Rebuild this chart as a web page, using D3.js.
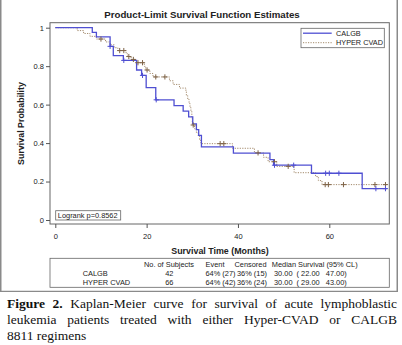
<!DOCTYPE html>
<html>
<head>
<meta charset="utf-8">
<script src="https://cdn.jsdelivr.net/npm/d3@7"></script>
<style>
  body { margin: 0; background: #fff; }
  #wrap { position: relative; width: 402px; height: 345px; overflow: hidden; }
  svg text { font-family: "Liberation Sans", Arial, sans-serif; fill: #222; }
  .cap { position: absolute; left: 7px; width: 390px; height: 16px; line-height: 16px;
         font-family: "Liberation Serif", "Times New Roman", serif; font-size: 13.5px; color: #111;
         white-space: nowrap; }
  .just { text-align: justify; text-align-last: justify; white-space: normal; }
</style>
</head>
<body>
<div id="wrap"></div>
<script>
// Kaplan-Meier step points (months, survival) for each arm
const calgbTime = [0, 8.1, 9.0, 12.0, 12.7, 14.9, 17.8, 18.9, 19.9, 22.0, 26.0, 28.0, 29.2, 30.1, 30.9, 31.4, 32.0, 39.0, 47.0, 47.8, 56.1, 67.2, 72.6];
const calgbSurv = [1, 0.976, 0.952, 0.903, 0.855, 0.830, 0.780, 0.752, 0.688, 0.625, 0.595, 0.566, 0.536, 0.500, 0.470, 0.440, 0.380, 0.348, 0.314, 0.285, 0.243, 0.163, 0.163];
const calgbCensor = [12.0, 15.0, 19.1, 22.1, 48.0, 52.2, 59.2, 60.0, 62.1, 70.2, 72.3];

const hyperTime = [0, 4.8, 6.2, 7.6, 9.0, 11.0, 12.0, 12.9, 13.7, 15.5, 15.8, 16.6, 17.6, 19.5, 19.8, 20.7, 21.4, 25.0, 25.8, 27.2, 28.6, 28.7, 29.0, 29.3, 29.5, 29.7, 29.9, 30.0, 30.5, 30.9, 31.3, 31.6, 31.9, 38.8, 43.6, 45.6, 46.6, 48.5, 52.3, 57.0, 57.6, 58.4, 72.6];
const hyperSurv = [1, 0.985, 0.970, 0.955, 0.941, 0.926, 0.911, 0.896, 0.881, 0.865, 0.850, 0.835, 0.818, 0.799, 0.780, 0.762, 0.744, 0.724, 0.705, 0.686, 0.667, 0.647, 0.627, 0.606, 0.585, 0.565, 0.535, 0.494, 0.474, 0.454, 0.434, 0.414, 0.397, 0.373, 0.349, 0.326, 0.303, 0.279, 0.246, 0.226, 0.205, 0.184, 0.184];
const hyperCensor = [10.0, 14.1, 15.0, 16.1, 17.1, 18.1, 19.1, 20.1, 22.0, 24.0, 30.2, 36.1, 36.9, 44.4, 48.0, 51.0, 59.1, 59.8, 63.1, 70.0, 72.3];

const xTicks = [0, 20, 40, 60];
const yTicks = [0, 0.2, 0.4, 0.6, 0.8, 1];

const groups = ["CALGB", "HYPER CVAD"];
const tableHead = ["No. of Subjects", "Event", "Censored", "Median Survival (95% CL)"];
const subjects = ["42", "66"];
const events = ["64% (27)", "64% (42)"];
const censored = ["36% (15)", "36% (24)"];
const medians = ["30.00  ( 22.00   47.00)", "30.00  ( 29.00   43.00)"];

const blue = "#4f4fd2", brown = "#a38a6c", brownMark = "#7e6347";

const wrap = d3.select("#wrap");
const svg = wrap.append("svg").attr("width", 402).attr("height", 292)
  .style("position", "absolute").style("left", 0).style("top", 0);

// outer graph border
svg.append("rect").attr("x", 0.75).attr("y", -2).attr("width", 396.5).attr("height", 293.5)
  .attr("fill", "none").attr("stroke", "#8a8a8a").attr("stroke-width", 1.5);

svg.append("text").attr("x", 202).attr("y", 17.5).attr("text-anchor", "middle")
  .style("font-size", "9.7px").style("font-weight", "bold")
  .text("Product-Limit Survival Function Estimates");

const frame = { l: 50, t: 22.7, r: 389.3, b: 224 };
const x = d3.scaleLinear().domain([0, 60]).range([55.3, 329.3]);
const y = d3.scaleLinear().domain([0, 1]).range([220, 27.7]);

svg.append("rect").attr("x", frame.l).attr("y", frame.t)
  .attr("width", frame.r - frame.l).attr("height", frame.b - frame.t)
  .attr("fill", "#fff").attr("stroke", "#666").attr("stroke-width", 1);

const yAxis = svg.append("g").attr("transform", `translate(${frame.l},0)`)
  .call(d3.axisLeft(y).tickValues(yTicks).tickSize(4).tickPadding(2)
    .tickFormat(d => d === 0 ? "0" : d === 1 ? "1" : d3.format(".1f")(d)));
const xAxis = svg.append("g").attr("transform", `translate(0,${frame.b})`)
  .call(d3.axisBottom(x).tickValues(xTicks).tickSize(4).tickPadding(6));
[yAxis, xAxis].forEach(g => {
  g.select(".domain").remove();
  g.selectAll("line").attr("stroke", "#555");
  g.selectAll("text").style("font-size", "7.5px").style("font-family", "'Liberation Sans', Arial, sans-serif").attr("fill", "#333");
});

svg.append("text").attr("x", 220).attr("y", 253.5).attr("text-anchor", "middle")
  .style("font-size", "8.9px").style("font-weight", "bold").text("Survival Time (Months)");
svg.append("text").attr("transform", "translate(24,123.5) rotate(-90)").attr("text-anchor", "middle")
  .style("font-size", "8.9px").style("font-weight", "bold").text("Survival Probability");

// survival curves
const step = d3.line().x(d => x(d[0])).y(d => y(d[1])).curve(d3.curveStepAfter);
const hyperPts = hyperTime.map((t, i) => [t, hyperSurv[i]]);
const calgbPts = calgbTime.map((t, i) => [t, calgbSurv[i]]);

svg.append("path").attr("d", step(hyperPts)).attr("fill", "none")
  .attr("stroke", brown).attr("stroke-width", 1).attr("stroke-dasharray", "1.2,1.3");
svg.append("path").attr("d", step(calgbPts)).attr("fill", "none")
  .attr("stroke", blue).attr("stroke-width", 1.3);

function survAt(times, surv, t) {
  return surv[Math.max(0, d3.bisectRight(times, t) - 1)];
}
function censorMarks(times, surv, marks, color) {
  svg.append("g").selectAll("path").data(marks).enter().append("path")
    .attr("d", t => {
      const cx = x(t), cy = y(survAt(times, surv, t));
      return `M${cx - 2.6},${cy}H${cx + 2.6}M${cx},${cy - 2.6}V${cy + 2.6}`;
    })
    .attr("stroke", color).attr("stroke-width", 1).attr("fill", "none");
}
censorMarks(hyperTime, hyperSurv, hyperCensor, brownMark);
censorMarks(calgbTime, calgbSurv, calgbCensor, blue);

// legend
const leg = svg.append("g");
leg.append("rect").attr("x", 301).attr("y", 28.3).attr("width", 83.3).attr("height", 19.4)
  .attr("fill", "#fff").attr("stroke", "#666").attr("stroke-width", 0.8);
groups.forEach((g, i) => {
  const ly = 33.2 + i * 9.5;
  leg.append("line").attr("x1", 303).attr("x2", 331.7).attr("y1", ly).attr("y2", ly)
    .attr("stroke", i === 0 ? blue : brown).attr("stroke-width", i === 0 ? 1.3 : 1)
    .attr("stroke-dasharray", i === 0 ? null : "1.2,1.3");
  leg.append("text").attr("x", 336).attr("y", ly + 2.6).style("font-size", "7.3px").text(g);
});

// log-rank inset
svg.append("rect").attr("x", 55.7).attr("y", 210.7).attr("width", 65).attr("height", 9.3)
  .attr("fill", "#fff").attr("stroke", "#666").attr("stroke-width", 0.8);
svg.append("text").attr("x", 57.8).attr("y", 218.2).style("font-size", "7.4px").text("Logrank p=0.8562");

// summary table
svg.append("rect").attr("x", frame.l).attr("y", 258.3).attr("width", frame.r - frame.l).attr("height", 29)
  .attr("fill", "#fff").attr("stroke", "#666").attr("stroke-width", 0.8);
const tbl = svg.append("g").style("font-size", "7.4px");
const headX = [169, 215, 250.5, 314.7];
tableHead.forEach((h, i) => {
  tbl.append("text").attr("x", headX[i]).attr("y", 266.6).attr("text-anchor", "middle").text(h);
});
groups.forEach((g, i) => {
  const ry = 276 + i * 9;
  tbl.append("text").attr("x", 82.7).attr("y", ry).text(g);
  tbl.append("text").attr("x", 169.3).attr("y", ry).attr("text-anchor", "middle").text(subjects[i]);
  tbl.append("text").attr("x", 205.5).attr("y", ry).text(events[i]);
  tbl.append("text").attr("x", 237).attr("y", ry).text(censored[i]);
  tbl.append("text").attr("x", 274).attr("y", ry).style("white-space", "pre").text(medians[i]);
});

// caption below the graph
const cap1 = wrap.append("div").attr("class", "cap just").style("top", "295.7px");
cap1.append("b").text("Figure 2.");
cap1.append("span").text(" Kaplan-Meier curve for survival of acute lymphoblastic");
wrap.append("div").attr("class", "cap just").style("top", "311.7px")
  .text("leukemia patients treated with either Hyper-CVAD or CALGB");
wrap.append("div").attr("class", "cap").style("top", "327.7px").text("8811 regimens");
</script>
</body>
</html>
